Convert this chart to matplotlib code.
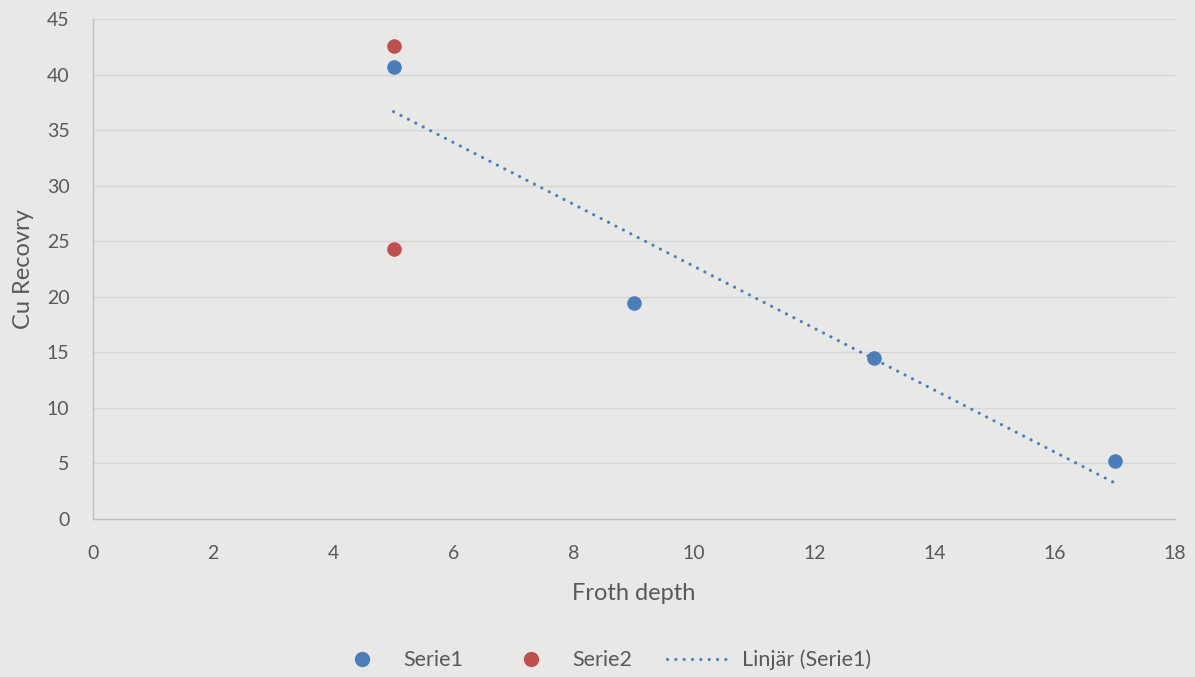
import numpy as np
import matplotlib
matplotlib.use("Agg")
import matplotlib.pyplot as plt
from matplotlib.lines import Line2D

plt.rcParams['font.family'] = ['Lato', 'DejaVu Sans']

serie1_x = [5, 9, 13, 17]
serie1_y = [40.7, 19.4, 14.5, 5.2]
serie2_x = [5, 5]
serie2_y = [42.6, 24.3]

x_ticks = [0, 2, 4, 6, 8, 10, 12, 14, 16, 18]
y_ticks = [0, 5, 10, 15, 20, 25, 30, 35, 40, 45]

blue = '#4A7EBB'
red = '#C0504D'
txt = '#595959'
bg = '#E8E8E6'
dots = (0, (0.01, 2.6))

fig = plt.figure(figsize=(11.95, 6.77), dpi=100)
fig.patch.set_facecolor(bg)
ax = fig.add_axes([93/1195, 1 - 519/677, (1175-93)/1195, (519-19)/677])
ax.set_facecolor(bg)

# trendline (linear fit of Serie1)
slope, intercept = np.polyfit(serie1_x, serie1_y, 1)
tx = np.array([min(serie1_x), max(serie1_x)])
ax.plot(tx, slope * tx + intercept, color=blue, lw=2.3, linestyle=dots,
        dash_capstyle='round', zorder=2)

ax.scatter(serie1_x, serie1_y, s=110, color=blue, zorder=3, linewidths=0)
ax.scatter(serie2_x, serie2_y, s=110, color=red, zorder=3, linewidths=0)

ax.set_xlim(0, 18)
ax.set_ylim(0, 45)
ax.set_xticks(x_ticks)
ax.set_yticks(y_ticks)
ax.grid(axis='y', color='#D6D6D6', lw=1)
ax.set_axisbelow(True)
for s in ['top', 'right']:
    ax.spines[s].set_visible(False)
for s in ['left', 'bottom']:
    ax.spines[s].set_color('#BFBFBF')
    ax.spines[s].set_linewidth(1)
ax.tick_params(axis='both', length=0, labelsize=14, colors=txt)
ax.tick_params(axis='x', pad=18.5)
ax.tick_params(axis='y', pad=17)

ax.set_xlabel('Froth depth', fontsize=17, color=txt, labelpad=15)
ax.set_ylabel('Cu Recovry', fontsize=17, color=txt, labelpad=9)

handles = [
    Line2D([], [], marker='o', color=blue, linestyle='none', markersize=10),
    Line2D([], [], marker='o', color=red, linestyle='none', markersize=10),
    Line2D([], [], color=blue, lw=2.3, linestyle=dots, dash_capstyle='round'),
]
leg = fig.legend(handles, ['Serie1', 'Serie2', 'Linjär (Serie1)'], loc='center',
                 bbox_to_anchor=(600/1195, 1 - 660/677), ncol=3, frameon=False,
                 fontsize=15.5, handlelength=3.05, handletextpad=0.4,
                 columnspacing=1.62)
for t in leg.get_texts():
    t.set_color(txt)

fig.savefig('out.png', dpi=100, facecolor=bg)
